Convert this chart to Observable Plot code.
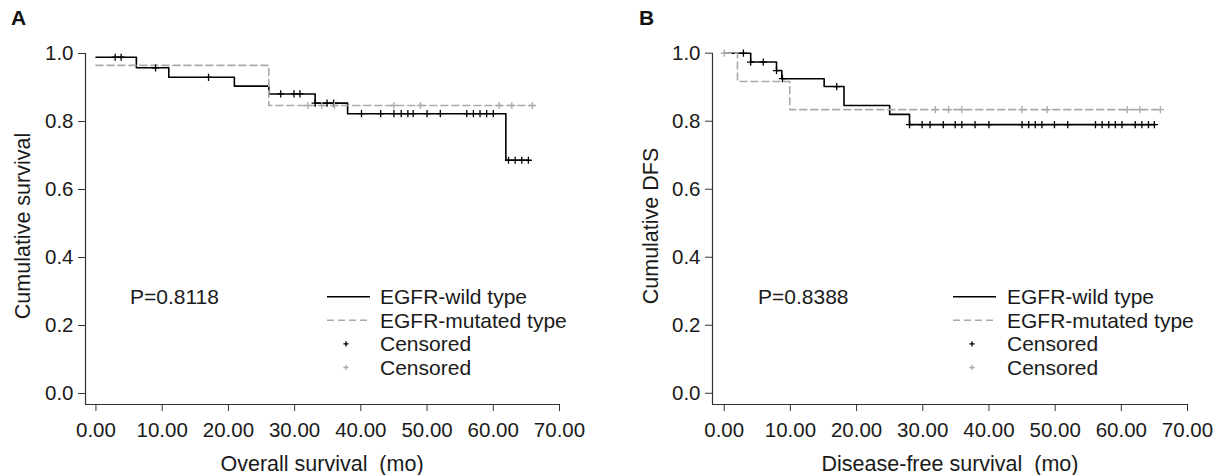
<!DOCTYPE html>
<html><head><meta charset="utf-8">
<script src="https://cdn.jsdelivr.net/npm/d3@7"></script>
<script src="https://cdn.jsdelivr.net/npm/@observablehq/plot@0.6"></script>
<style>
body{margin:0;background:#fff;font-family:"Liberation Sans",Arial,sans-serif;}
#root{position:relative;width:1223px;height:475px;overflow:hidden;background:#fff;}
.panel{position:absolute;top:0;}
#overlay{position:absolute;left:0;top:0;pointer-events:none;}
</style></head><body><div id="root"></div>
<script>
// ---------- data ----------
const timeTicks = [0, 10, 20, 30, 40, 50, 60, 70];
const survTicks = [0, 0.2, 0.4, 0.6, 0.8, 1.0];
const groupNames = ["EGFR-wild type", "EGFR-mutated type"];
const censorLabel = "Censored";

// Panel A: overall survival
const osWildTimes = [0, 6.1, 11.0, 20.9, 26.1, 33.1, 38.0, 61.9];
const osWildSurv  = [0.989, 0.958, 0.930, 0.904, 0.881, 0.854, 0.823, 0.686];
const osWildCensor = [2.9, 3.8, 9.0, 17.0, 27.9, 29.9, 30.8, 33.1, 34.9, 35.9, 40.1, 43.0, 45.0, 46.1, 47.1, 47.9, 50.0, 52.0, 56.0, 57.0, 58.0, 59.0, 60.0, 62.3, 63.3, 64.3, 65.3];
const osMutTimes = [0, 26.1];
const osMutSurv  = [0.965, 0.847];
const osMutCensor = [32.0, 34.1, 36.0, 45.0, 49.0, 60.9, 62.8, 65.9];
const osP = "P=0.8118";

// Panel B: disease-free survival
const dfsWildTimes = [0, 4.0, 7.9, 8.7, 15.1, 18.1, 25.0, 28.0];
const dfsWildSurv  = [1.0, 0.974, 0.949, 0.925, 0.902, 0.846, 0.820, 0.790];
const dfsWildCensor = [2.9, 4.0, 5.9, 7.9, 8.8, 17.0, 28.0, 29.9, 31.1, 33.1, 34.9, 35.9, 37.9, 40.0, 45.0, 46.0, 47.0, 48.0, 49.9, 51.9, 56.1, 57.1, 58.1, 59.1, 60.1, 62.1, 63.1, 64.1, 65.0];
const dfsMutTimes = [0, 2.0, 9.9];
const dfsMutSurv  = [1.0, 0.917, 0.834];
const dfsMutCensor = [0.0, 31.9, 33.9, 35.9, 45.0, 48.8, 60.9, 62.8, 65.9];
const dfsP = "P=0.8388";

// ---------- helpers ----------
const FONT = '"Liberation Sans", Arial, sans-serif';
const plusSymbol = {
  draw(ctx, size) {
    const r = Math.sqrt(size / Math.PI);
    ctx.moveTo(-r, 0); ctx.lineTo(r, 0);
    ctx.moveTo(0, -r); ctx.lineTo(0, r);
  }
};
function stepValue(times, surv, t) {
  let v = surv[0];
  for (let i = 0; i < times.length; i++) if (times[i] <= t + 1e-9) v = surv[i];
  return v;
}
function curvePoints(times, surv, censor) {
  const end = Math.max(times[times.length - 1], ...censor);
  const pts = times.map((t, i) => ({t, s: surv[i]}));
  pts.push({t: end, s: surv[surv.length - 1]});
  return pts;
}
function censorPoints(times, surv, censor) {
  return censor.map(t => ({t, s: stepValue(times, surv, t)}));
}

function makePanel(cfg) {
  const wild = curvePoints(cfg.wt, cfg.ws, cfg.wc);
  const mut = curvePoints(cfg.mt, cfg.ms, cfg.mc);
  const wildC = censorPoints(cfg.wt, cfg.ws, cfg.wc);
  const mutC = censorPoints(cfg.mt, cfg.ms, cfg.mc);
  const chart = Plot.plot({
    width: cfg.width, height: 475,
    marginLeft: cfg.mL, marginRight: cfg.mR, marginTop: cfg.mT, marginBottom: cfg.mB,
    x: {domain: [cfg.xmin, 70]},
    y: {domain: [cfg.ymin, 1]},
    style: {fontFamily: FONT, fontSize: "20px", color: "#1a1a1a", background: "transparent", overflow: "visible"},
    marks: [
      Plot.ruleX([cfg.xmin], {y1: cfg.ymin, y2: 1, stroke: "#333", strokeWidth: 1.2}),
      Plot.ruleY([cfg.ymin], {x1: cfg.xmin, x2: 70, stroke: "#333", strokeWidth: 1.2}),
      Plot.axisX({ticks: timeTicks, tickFormat: d3.format(".2f"), tickSize: 7, tickPadding: 11, label: null, stroke: "#333", fill: "#1a1a1a"}),
      Plot.axisY({ticks: survTicks, tickFormat: d3.format(".1f"), tickSize: 7, tickPadding: 5, label: null, stroke: "#333", fill: "#1a1a1a"}),
      Plot.line(wild, {x: "t", y: "s", curve: "step-after", stroke: "#000", strokeWidth: 1.6}),
      Plot.line(mut, {x: "t", y: "s", curve: "step-after", stroke: "#aaa", strokeWidth: 1.6, strokeDasharray: "7,4"}),
      Plot.dot(wildC, {x: "t", y: "s", symbol: plusSymbol, r: 3.6, fill: "none", stroke: "#000", strokeWidth: 1.3}),
      Plot.dot(mutC, {x: "t", y: "s", symbol: plusSymbol, r: 3.6, fill: "none", stroke: "#aaa", strokeWidth: 1.3})
    ]
  });
  // enforce tick label font size
  d3.select(chart).selectAll("text").style("font-size", "20.5px").style("font-family", FONT);
  return chart;
}

const root = document.getElementById("root");
const pA = makePanel({width: 612, mL: 85, mR: 53, mT: 53, mB: 71, xmin: -1.58, ymin: -0.0324,
  wt: osWildTimes, ws: osWildSurv, wc: osWildCensor, mt: osMutTimes, ms: osMutSurv, mc: osMutCensor});
pA.classList.add("panel"); pA.style.left = "0px";
root.appendChild(pA);
const pB = makePanel({width: 611, mL: 100, mR: 36, mT: 52.7, mB: 71, xmin: -1.77, ymin: -0.033,
  wt: dfsWildTimes, ws: dfsWildSurv, wc: dfsWildCensor, mt: dfsMutTimes, ms: dfsMutSurv, mc: dfsMutCensor});
pB.classList.add("panel"); pB.style.left = "612px";
root.appendChild(pB);

// ---------- overlay: titles, legends, annotations ----------
const svg = d3.select(root).append("svg").attr("id", "overlay")
  .attr("width", 1223).attr("height", 475)
  .style("font-family", FONT);

function addText(x, y, txt, opts = {}) {
  const t = svg.append("text").attr("x", x).attr("y", y).text(txt)
    .attr("font-size", opts.size || 21).attr("fill", opts.fill || "#1a1a1a")
    .attr("dy", opts.dy ?? "0.35em")
    .attr("text-anchor", opts.anchor || "start")
    .attr("font-weight", opts.weight || "normal")
    .style("white-space", "pre").attr("xml:space", "preserve");
  if (opts.rotate) t.attr("transform", `rotate(${opts.rotate},${x},${y})`);
  return t;
}

function legend(lx, tx, y0, dyRow, pText, px) {
  addText(px, y0, pText, {size: 21});
  const ys = [y0, y0 + dyRow, y0 + 2 * dyRow, y0 + 3 * dyRow];
  svg.append("line").attr("x1", lx).attr("x2", lx + 43).attr("y1", ys[0]).attr("y2", ys[0]).attr("stroke", "#000").attr("stroke-width", 1.6);
  svg.append("line").attr("x1", lx).attr("x2", lx + 43).attr("y1", ys[1]).attr("y2", ys[1]).attr("stroke", "#aaa").attr("stroke-width", 1.4).attr("stroke-dasharray", "7,4");
  const cx = lx + 19;
  [["#000", ys[2]], ["#aaa", ys[3]]].forEach(([c, y]) => {
    svg.append("path").attr("d", `M${cx - 2.6},${y}H${cx + 2.6}M${cx},${y - 2.6}V${y + 2.6}`).attr("stroke", c).attr("stroke-width", 1.3);
  });
  addText(tx, ys[0], groupNames[0]);
  addText(tx, ys[1], groupNames[1]);
  addText(tx, ys[2], censorLabel);
  addText(tx, ys[3], censorLabel);
}

legend(327, 380, 296.7, 23.6, osP, 130);
legend(953, 1007, 296.7, 23.6, dfsP, 758);

// axis titles
addText(322, 463, "Overall survival  (mo)", {anchor: "middle", size: 21.5});
addText(950, 463, "Disease-free survival  (mo)", {anchor: "middle", size: 21.5});
addText(22, 226, "Cumulative survival", {anchor: "middle", rotate: -90, size: 21.5});
addText(650, 226, "Cumulative DFS", {anchor: "middle", rotate: -90, size: 21.5});

// panel letters
addText(11, 18, "A", {size: 21, weight: "bold", fill: "#111"});
addText(639, 18, "B", {size: 21, weight: "bold", fill: "#111"});
</script></body></html>
